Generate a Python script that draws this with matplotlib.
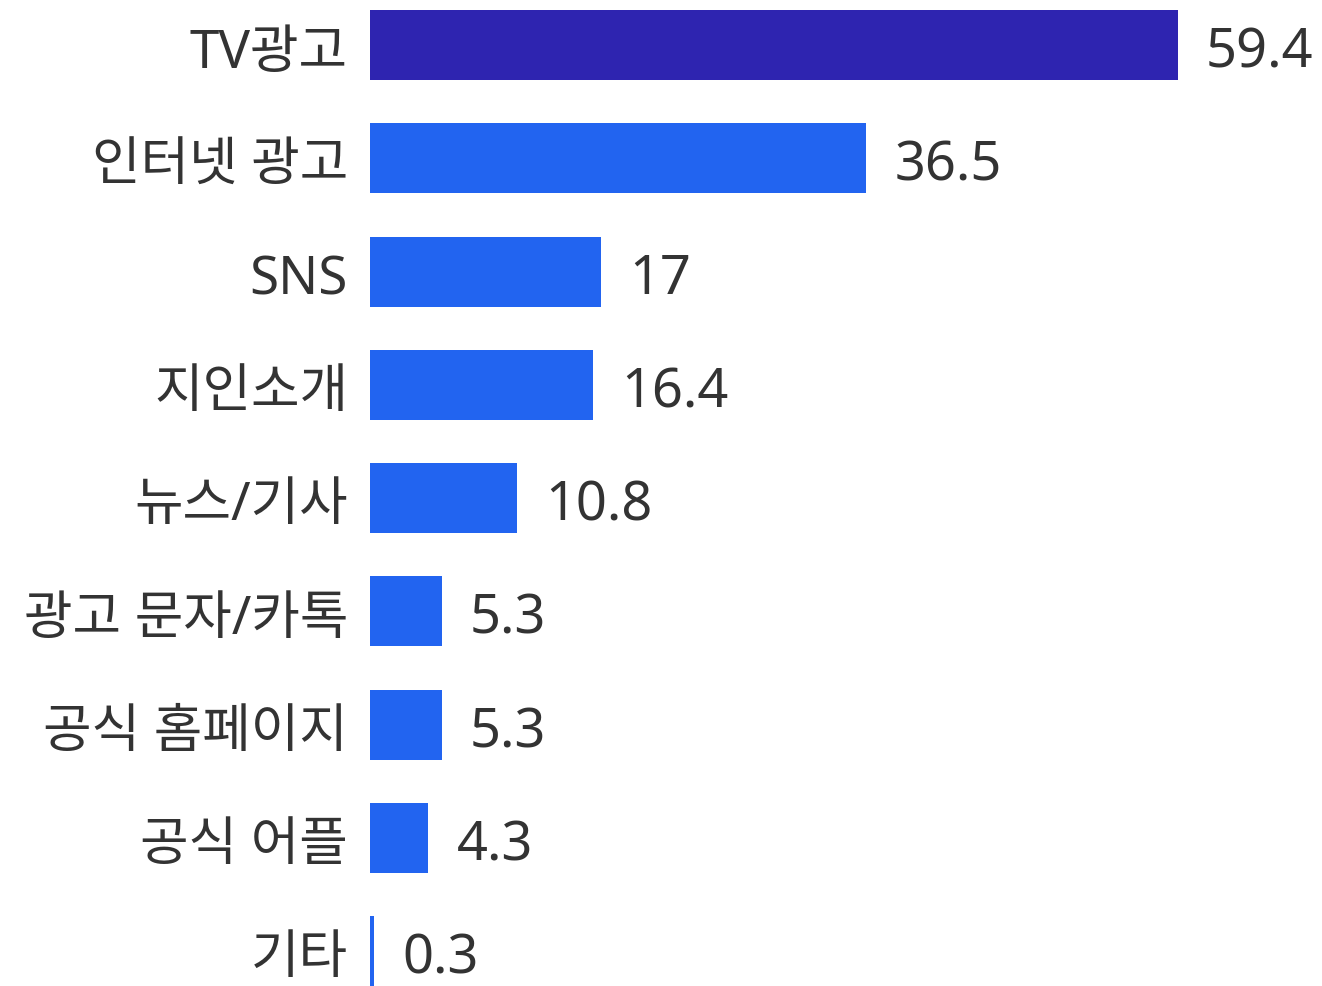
import matplotlib
matplotlib.use('Agg')
import matplotlib.pyplot as plt

plt.rcParams['font.family'] = ['Noto Sans', 'Noto Sans CJK KR', 'DejaVu Sans']

categories = ['TV광고', '인터넷 광고', 'SNS', '지인소개', '뉴스/기사',
              '광고 문자/카톡', '공식 홈페이지', '공식 어플', '기타']
values = [59.4, 36.5, 17, 16.4, 10.8, 5.3, 5.3, 4.3, 0.3]
value_labels = ['59.4', '36.5', '17', '16.4', '10.8', '5.3', '5.3', '4.3', '0.3']

top_color = '#2E24B0'
bar_color = '#2264F0'
text_color = '#333333'

W, H = 1322, 987
fig = plt.figure(figsize=(W / 100, H / 100), dpi=100)
ax_left = 370 / W
ax = fig.add_axes([ax_left, 0, 1 - ax_left, 1])

px_per_unit = (1178 - 370) / 59.4
ax.set_xlim(0, (W - 370) / px_per_unit)
step = 113.25
ax.set_ylim(8 + (H - 952) / step, -46 / step)

colors = [top_color] + [bar_color] * (len(values) - 1)
y = list(range(len(values)))
ax.barh(y, values, height=70 / step, color=colors)

# value labels right of each bar
for yi, v, lab in zip(y, values, value_labels):
    ax.text(v + 28 / px_per_unit, yi + 7 / step, lab, va='center', ha='left',
            fontsize=39, color=text_color)

# category labels left of the axis
for yi, cat in zip(y, categories):
    ax.text(-22 / px_per_unit, yi + 8 / step, cat, va='center', ha='right',
            fontsize=38, color=text_color, clip_on=False)

ax.set_xticks([])
ax.set_yticks([])
for s in ax.spines.values():
    s.set_visible(False)

fig.savefig('out.png', dpi=100)
